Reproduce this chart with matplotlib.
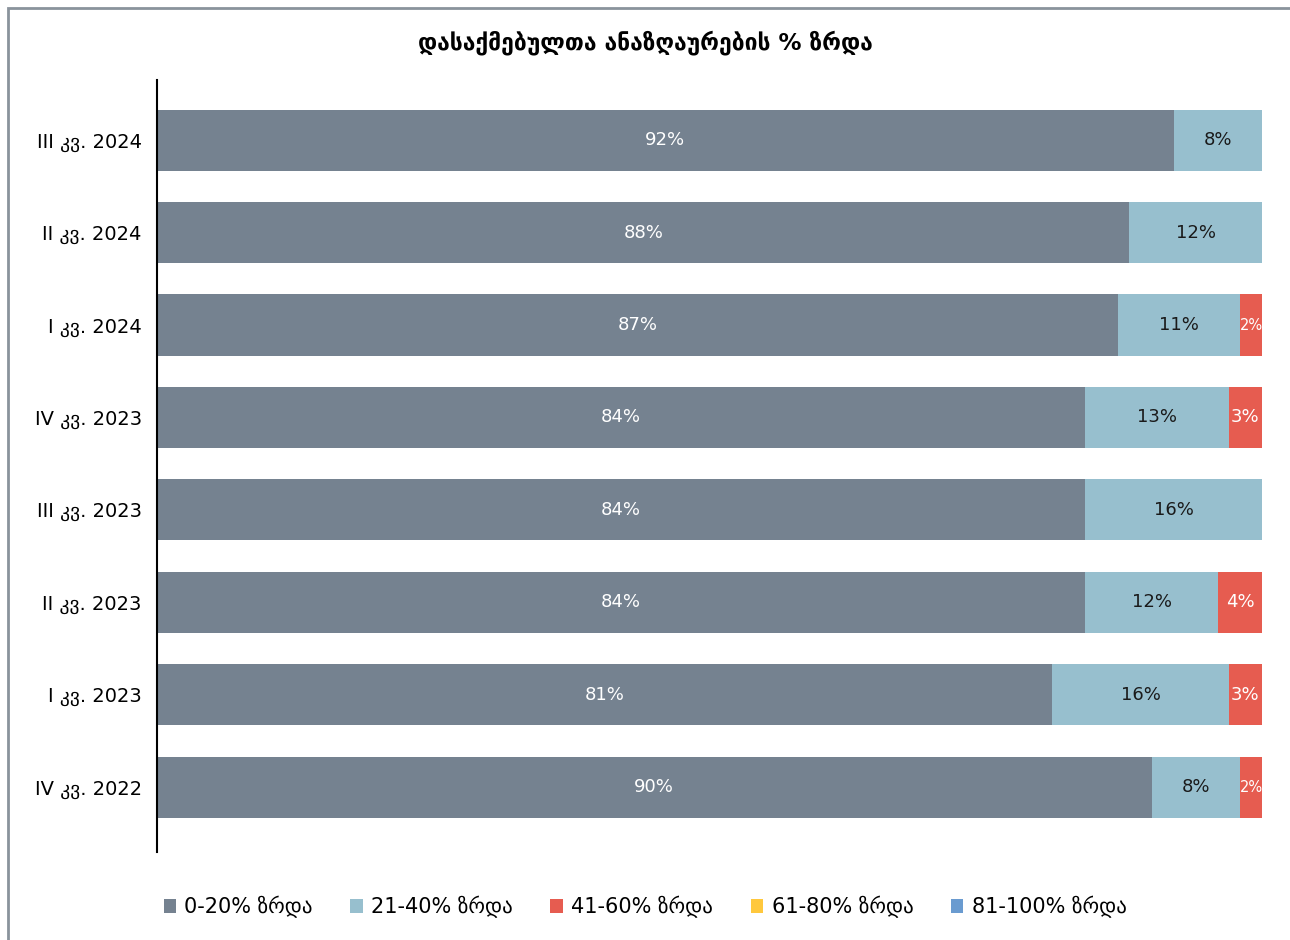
import matplotlib.pyplot as plt
import numpy as np
from matplotlib.patches import Patch, Rectangle

plt.rcParams["font.family"] = ["DejaVu Sans"]

quarters = ["IV კვ. 2022", "I კვ. 2023", "II კვ. 2023", "III კვ. 2023",
            "IV კვ. 2023", "I კვ. 2024", "II კვ. 2024", "III კვ. 2024"]
g0_20 = [90, 81, 84, 84, 84, 87, 88, 92]
g21_40 = [8, 16, 12, 16, 13, 11, 12, 8]
g41_60 = [2, 3, 4, 0, 3, 2, 0, 0]
g61_80 = [0, 0, 0, 0, 0, 0, 0, 0]
g81_100 = [0, 0, 0, 0, 0, 0, 0, 0]

series = [
    ("0-20% ზრდა", g0_20, "#758290", "white"),
    ("21-40% ზრდა", g21_40, "#97BFCE", "#1a1a1a"),
    ("41-60% ზრდა", g41_60, "#E65C50", "white"),
    ("61-80% ზრდა", g61_80, "#FFC83D", "#1a1a1a"),
    ("81-100% ზრდა", g81_100, "#6A9BD0", "white"),
]

fig = plt.figure(figsize=(12.9, 9.4), dpi=100)
ax = fig.add_axes([157 / 1290, 1 - 852 / 940, 1105 / 1290, 772 / 940])

y = np.arange(len(quarters))
left = np.zeros(len(quarters))
for name, vals, color, tcolor in series:
    vals = np.array(vals, dtype=float)
    ax.barh(y, vals, left=left, height=0.66, color=color, label=name)
    for yi, v, l in zip(y, vals, left):
        if v <= 0:
            continue
        fs = 10.5 if v <= 2 else 13
        ax.text(l + v / 2, yi, f"{int(v)}%", ha="center", va="center",
                color=tcolor, fontsize=fs)
    left += vals

ax.set_xlim(0, 100)
ax.set_ylim(-0.7, 7.65)
ax.set_yticks(y)
ax.set_yticklabels(quarters, fontsize=14)
ax.tick_params(axis="y", length=0, pad=11)
ax.set_xticks([])
for s in ["top", "right", "bottom"]:
    ax.spines[s].set_visible(False)
ax.spines["left"].set_linewidth(1.5)

fig.text(0.5, 1 - 43 / 940, "დასაქმებულთა ანაზღაურების % ზრდა",
         ha="center", va="center", fontsize=16.5, fontweight="bold")

handles = [Patch(facecolor=c, label=n) for n, _, c, _ in series]
fig.legend(handles=handles, loc="center", bbox_to_anchor=(0.5, 1 - 907 / 940),
           ncol=5, frameon=False, fontsize=15, handlelength=0.6,
           handleheight=0.6, handletextpad=0.4, columnspacing=1.8)

fig.patches.append(Rectangle((8 / 1290, -0.01), 1.1, 1 - 8 / 940 + 0.01,
                             transform=fig.transFigure, fill=False,
                             edgecolor="#8a939c", linewidth=2))

fig.savefig("out.png", dpi=100)
